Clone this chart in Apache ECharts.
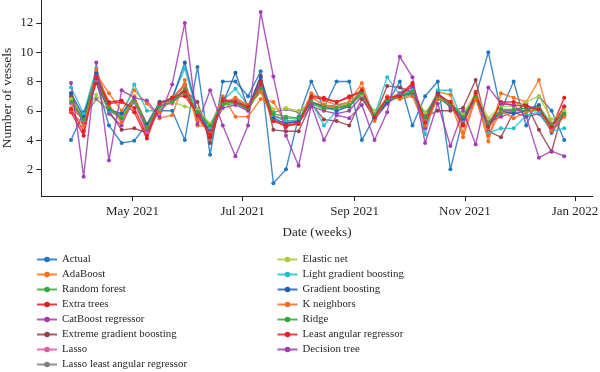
<!DOCTYPE html>
<html>
<head>
<meta charset="utf-8">
<script src="https://cdn.jsdelivr.net/npm/echarts@6/dist/echarts.min.js"></script>
<style>html,body{margin:0;padding:0;background:#fff}#c{width:600px;height:372px}</style>
</head>
<body>
<div id="c"></div>
<script>
const dates = ['2021-03-28','2021-04-04','2021-04-11','2021-04-18','2021-04-25','2021-05-02','2021-05-09','2021-05-16','2021-05-23','2021-05-30',
'2021-06-06','2021-06-13','2021-06-20','2021-06-27','2021-07-04','2021-07-11','2021-07-18','2021-07-25','2021-08-01','2021-08-08',
'2021-08-15','2021-08-22','2021-08-29','2021-09-05','2021-09-12','2021-09-19','2021-09-26','2021-10-03','2021-10-10','2021-10-17',
'2021-10-24','2021-10-31','2021-11-07','2021-11-14','2021-11-21','2021-11-28','2021-12-05','2021-12-12','2021-12-19','2021-12-26'];

const actual = [4.0,5.9,8.0,5.0,3.8,3.95,5.1,6.0,6.0,4.0,9.0,3.0,8.0,8.0,7.0,8.7,1.05,2.0,5.6,8.0,6.2,8.0,8.0,4.0,5.6,6.5,8.0,5.0,7.0,8.0,2.0,5.5,7.0,10.0,6.0,8.0,5.0,7.0,6.0,4.0];
const adaBoost = [6.2,5.4,8.5,7.2,6.0,7.4,6.5,5.5,5.7,8.1,5.0,4.9,7.0,5.6,5.6,6.8,6.6,5.2,5.3,7.2,6.7,6.4,6.6,7.9,5.5,6.8,7.2,7.4,5.6,7.3,7.1,4.5,7.0,3.9,7.2,6.9,6.6,8.1,5.0,6.0];
const randomForest = [6.9,5.5,8.0,6.0,5.6,6.6,4.8,6.3,6.7,7.5,6.0,4.9,6.4,6.5,6.1,7.5,5.6,5.5,5.5,6.5,6.1,6.2,6.3,7.2,5.7,6.7,7.0,7.3,5.5,6.9,6.3,5.5,6.9,5.0,5.8,6.0,6.0,6.0,4.9,5.9];
const extraTrees = [5.9,4.3,8.4,6.6,6.7,5.9,4.1,6.4,6.9,7.0,5.8,4.2,6.6,6.7,6.3,8.0,5.4,4.9,5.2,7.0,6.9,6.6,7.0,7.3,5.5,6.8,7.1,7.9,5.0,7.1,6.5,5.0,7.3,5.0,6.6,6.6,6.4,6.0,4.8,6.9];
const catBoost = [7.2,5.0,8.5,5.8,5.0,6.9,4.6,6.0,6.8,7.8,5.6,4.6,6.2,6.4,6.0,7.7,5.3,5.2,5.2,6.3,6.0,5.8,6.0,7.0,5.4,6.5,7.2,7.6,4.8,7.2,6.2,5.3,6.8,5.2,5.6,5.9,5.6,5.8,4.7,5.7];
const xgBoost = [7.0,5.2,7.9,6.0,4.7,4.8,4.5,6.6,6.6,7.4,6.6,3.8,6.8,6.6,6.1,8.4,4.7,4.6,4.6,6.5,5.4,5.3,5.0,6.8,5.6,7.7,7.6,7.3,5.6,6.0,6.0,6.2,8.1,4.6,4.2,5.9,6.5,4.7,3.2,6.3];
const lasso = [6.5,5.3,8.1,6.2,5.4,6.6,4.5,6.4,6.5,7.4,5.9,4.8,6.6,6.8,6.3,7.4,5.7,5.3,5.3,6.6,6.3,6.4,6.5,7.1,5.6,6.7,6.9,7.3,5.3,7.0,6.5,5.5,6.9,4.8,6.1,6.0,6.2,6.1,4.8,5.8];
const lassoLar = [6.8,5.5,6.8,6.0,5.7,6.8,5.0,6.5,6.6,7.2,6.1,5.0,6.6,6.7,6.3,7.3,5.9,6.1,5.9,6.5,6.4,6.3,6.5,7.0,5.9,6.8,6.9,7.1,5.8,6.8,6.5,5.7,6.9,5.3,6.0,6.0,6.2,6.3,5.1,5.9];
const elasticNet = [6.8,5.6,7.1,6.2,5.7,6.7,5.1,6.5,6.6,6.3,6.1,5.1,6.5,6.6,6.3,7.3,6.1,6.2,6.0,6.6,6.3,6.3,6.5,7.1,6.0,6.8,6.9,7.2,5.9,6.9,6.6,5.8,7.2,5.5,6.3,6.3,6.6,7.0,5.4,6.0];
const lightGb = [7.6,5.8,8.9,6.0,5.5,7.8,6.0,6.0,6.9,8.9,5.8,4.9,6.7,7.5,6.4,7.8,5.6,5.3,5.4,6.6,5.0,6.0,6.4,7.5,5.7,8.3,7.1,7.4,4.4,7.4,7.4,5.2,7.0,4.5,4.8,4.8,5.7,5.9,4.6,4.8];
const gradBoost = [7.2,5.6,8.6,6.1,5.8,6.9,5.1,6.6,6.8,9.3,5.9,4.6,6.5,8.6,6.2,8.3,5.5,5.1,5.3,6.6,6.3,6.0,6.3,7.4,5.5,6.6,7.0,7.2,5.6,7.2,6.5,5.5,6.9,5.0,6.0,5.8,6.0,6.4,4.5,5.7];
const kNeighbors = [6.0,5.0,8.8,6.4,5.2,7.0,4.9,5.9,6.9,7.8,5.4,4.5,6.5,6.9,6.4,7.3,5.3,5.0,5.1,6.9,6.4,6.2,6.4,7.5,5.3,7.0,6.8,7.0,5.0,6.8,6.6,4.2,6.8,4.3,6.0,5.5,5.9,6.2,4.6,5.6];
const ridge = [6.6,5.4,8.2,6.2,5.5,6.7,4.9,6.3,6.6,7.4,5.9,5.0,6.5,6.6,6.2,7.5,5.8,5.6,5.5,6.6,6.2,6.2,6.4,7.2,5.7,6.7,7.0,7.3,5.6,7.0,6.5,5.6,7.0,5.1,6.1,6.1,6.2,6.2,5.0,5.8];
const lar = [6.1,4.6,8.2,6.5,6.6,6.2,4.3,6.5,6.9,7.3,5.7,4.4,6.7,6.6,6.3,7.8,5.3,5.0,5.1,6.9,6.8,6.6,6.9,7.4,5.6,6.9,7.0,7.8,5.2,7.1,6.6,5.1,7.2,4.9,6.5,6.4,6.3,6.1,4.9,6.3];
const decisionTree = [7.9,1.5,9.3,2.6,7.4,6.9,6.7,5.6,7.8,12.0,5.1,7.4,5.0,2.9,5.0,12.75,8.35,4.3,2.25,6.4,4.0,5.7,5.5,6.4,4.0,5.9,9.7,8.3,3.8,6.5,3.6,6.0,3.7,7.6,6.5,6.4,5.6,2.8,3.25,2.9];

const seriesNames = ['Actual','AdaBoost','Random forest','Extra trees','CatBoost regressor','Extreme gradient boosting','Lasso','Lasso least angular regressor',
  'Elastic net','Light gradient boosting','Gradient boosting','K neighbors','Ridge','Least angular regressor','Decision tree'];
const seriesValues = [actual, adaBoost, randomForest, extraTrees, catBoost, xgBoost, lasso, lassoLar, elasticNet, lightGb, gradBoost, kNeighbors, ridge, lar, decisionTree];
const colors = ['#1f77c0','#ff6e1a','#34a83a','#e31a1c','#a03cb4','#9a3d4a','#e35aa8','#7f7f7f','#a8cc3c','#22bfd0','#1f5fb0','#ff6a1a','#33a83a','#ee1c24','#a03cb4'];

const yTicks = [2,4,6,8,10,12];
const xTickDates = ['2021-05-01','2021-07-01','2021-09-01','2021-11-01','2022-01-01'];
const xTickLabels = ['May 2021','Jul 2021','Sep 2021','Nov 2021','Jan 2022'];

function ts(s){ const p = s.split('-').map(Number); return Date.UTC(p[0], p[1]-1, p[2]); }
const DAY = 864e5;
const xTickTs = xTickDates.map(ts);
const xMin = xTickTs[0] - 50.45*DAY;
const xMax = xTickTs[4] + 9.77*DAY;

const font = "'Liberation Serif','Times New Roman',serif";
const ink = '#231f20';

const chart = echarts.init(document.getElementById('c'), null, {renderer:'canvas'});
const series = seriesNames.map((n,k)=>({
  name:n, type:'line',
  data: dates.map((d,i)=>[ts(d), seriesValues[k][i]]),
  symbol:'circle', symbolSize:4, showSymbol:true,
  lineStyle:{width:1.4, color:colors[k], opacity:0.85},
  itemStyle:{color:colors[k]},
  emphasis:{disabled:true},
  animation:false
}));

function labelFor(v){
  let best=0; for(let j=1;j<xTickTs.length;j++){ if(Math.abs(xTickTs[j]-v)<Math.abs(xTickTs[best]-v)) best=j; }
  return xTickLabels[best];
}

chart.setOption({
  animation:false,
  textStyle:{fontFamily:font},
  grid:{left:41.3, right:7.3, top:0, bottom:176, containLabel:false, outerBoundsMode:'none'},
  legend:[
    {data:seriesNames.slice(0,8), orient:'vertical', left:36, top:252, padding:0, itemGap:0,
     itemWidth:20, itemHeight:7, textStyle:{fontFamily:font, fontSize:10.8, color:ink, lineHeight:15}},
    {data:seriesNames.slice(8), orient:'vertical', left:276.5, top:252, padding:0, itemGap:0,
     itemWidth:20, itemHeight:7, textStyle:{fontFamily:font, fontSize:10.8, color:ink, lineHeight:15}}
  ],
  xAxis:{
    type:'value', min:xMin, max:xMax,
    name:'Date (weeks)', nameLocation:'middle', nameGap:30, nameMoveOverlap:false,
    nameTextStyle:{fontFamily:font, fontSize:13, color:ink},
    axisLine:{show:true, onZero:false, lineStyle:{color:ink, width:1}},
    axisTick:{show:true, length:5, lineStyle:{color:ink}, customValues:xTickTs},
    axisLabel:{customValues:xTickTs, margin:9, fontFamily:font, fontSize:13, color:ink, formatter:labelFor},
    splitLine:{show:false}
  },
  yAxis:{
    type:'value', min:0.18, max:13.57,
    name:'Number of vessels', nameLocation:'middle', nameGap:27, nameMoveOverlap:false,
    nameTextStyle:{fontFamily:font, fontSize:13.5, color:ink},
    axisLine:{show:true, onZero:false, lineStyle:{color:ink, width:1}},
    axisTick:{show:true, length:5, lineStyle:{color:ink}, customValues:yTicks},
    axisLabel:{customValues:yTicks, margin:8, fontFamily:font, fontSize:13, color:ink},
    splitLine:{show:false}
  },
  series:series
});
</script>
</body>
</html>
